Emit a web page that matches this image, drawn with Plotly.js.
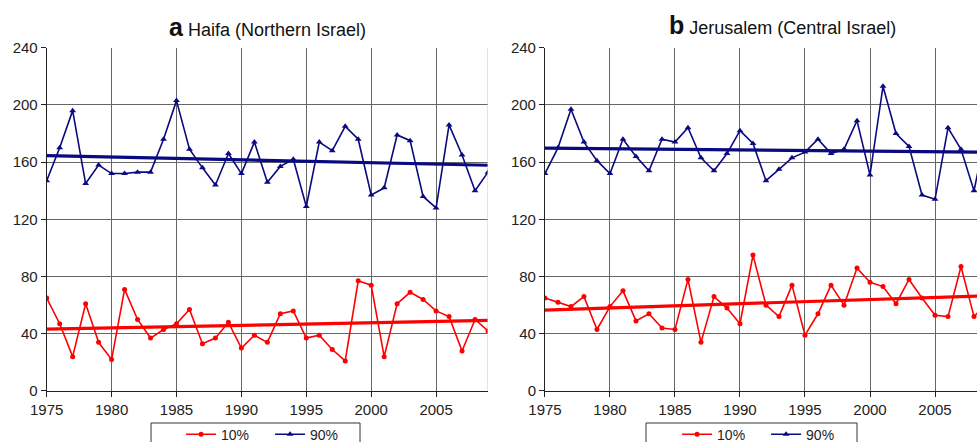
<!DOCTYPE html>
<html><head><meta charset="utf-8">
<script src="https://cdn.plot.ly/plotly-3.0.1.min.js"></script>
<style>html,body{margin:0;padding:0;background:#fff}#chart{width:977px;height:442px}</style>
</head><body><div id="chart"></div>
<script>
// ---- data ----
const years = [1975,1976,1977,1978,1979,1980,1981,1982,1983,1984,1985,1986,1987,1988,1989,1990,1991,1992,1993,1994,1995,1996,1997,1998,1999,2000,2001,2002,2003,2004,2005,2006,2007,2008,2009];
const haifa10 = [65,47,24,61,34,22,71,50,37,43,47,57,33,37,48,30,39,34,54,56,37,39,29,21,77,74,24,61,69,64,56,52,28,50,42];
const haifa90 = [147,170,196,145,158,152,152,153,153,176,203,169,156,144,166,152,174,146,157,162,129,174,168,185,176,137,142,179,175,136,128,186,165,140,153];
const jerus10 = [65,62,59,66,43,59,70,49,54,44,43,78,34,66,58,47,95,60,52,74,39,54,74,60,86,76,73,61,78,65,53,52,87,52,62];
const jerus90 = [152,170,197,174,161,152,176,164,154,176,174,184,163,154,166,182,173,147,155,163,167,176,166,169,189,151,213,180,171,137,134,184,169,140,184];
const trendYears = [1975, 2009];
const haifaTrend10 = [43.2, 49.3];
const haifaTrend90 = [164.6, 157.8];
const jerusTrend10 = [56.6, 66.6];
const jerusTrend90 = [169.8, 166.9];
const seriesNames = ['10%', '90%'];
const titles = ['<span style="font-size:25px"><b>a</b></span> Haifa (Northern Israel)',
                '<span style="font-size:25px"><b>b</b></span> Jerusalem (Central Israel)'];

// ---- styles ----
const RED = '#ff0000', NAVY = '#0a0a80';
const FONT = 'Liberation Sans, Arial, sans-serif';

function series(x, y, name, color, symbol, size, xa, ya, leg) {
  return {x, y, name, type:'scatter', mode:'lines+markers', xaxis:xa, yaxis:ya, legend:leg,
    line:{color, width:1.6}, marker:{color, symbol, size}, cliponaxis:true};
}
function trend(x, y, color, xa, ya) {
  return {x, y, type:'scatter', mode:'lines', xaxis:xa, yaxis:ya, showlegend:false,
    line:{color, width:3.2}, hoverinfo:'skip'};
}

const data = [
  series(years, haifa10, seriesNames[0], RED, 'circle', 5, 'x', 'y', 'legend'),
  series(years, haifa90, seriesNames[1], NAVY, 'triangle-up', 6, 'x', 'y', 'legend'),
  trend(trendYears, haifaTrend10, RED, 'x', 'y'),
  trend(trendYears, haifaTrend90, NAVY, 'x', 'y'),
  series(years, jerus10, seriesNames[0], RED, 'circle', 5, 'x2', 'y2', 'legend2'),
  series(years, jerus90, seriesNames[1], NAVY, 'triangle-up', 6, 'x2', 'y2', 'legend2'),
  trend(trendYears, jerusTrend10, RED, 'x2', 'y2'),
  trend(trendYears, jerusTrend90, NAVY, 'x2', 'y2'),
];

const xBase = {tick0:1975, dtick:5, showgrid:true, gridcolor:'#666', gridwidth:1,
  showline:true, linecolor:'#222', linewidth:1, ticks:'outside', ticklen:5, tickcolor:'#222',
  tickfont:{size:15, color:'#222', family:FONT}, zeroline:false, fixedrange:true};
const yBase = {range:[0,240], tick0:0, dtick:40, showgrid:true, gridcolor:'#666', gridwidth:1,
  showline:true, linecolor:'#222', linewidth:1, ticks:'outside', ticklen:5, tickcolor:'#222',
  tickfont:{size:15, color:'#222', family:FONT}, zeroline:false, fixedrange:true,
  domain:[0.1154, 0.8921]};

const legBase = {orientation:'h', xanchor:'left', yanchor:'middle', y:0.0165,
  bgcolor:'rgba(0,0,0,0)', borderwidth:0, font:{size:14, color:'#222', family:FONT},
  entrywidth:44, entrywidthmode:'pixels'};

const layout = {
  width:977, height:442, margin:{l:0, r:0, t:0, b:0, autoexpand:false},
  paper_bgcolor:'#fff', plot_bgcolor:'#fff', font:{family:FONT, color:'#222'},
  xaxis: Object.assign({}, xBase, {domain:[0.0478, 0.4995], range:[1975, 2009], anchor:'y'}),
  yaxis: Object.assign({}, yBase, {anchor:'x'}),
  xaxis2: Object.assign({}, xBase, {domain:[0.5578, 1], range:[1975, 2008.23], anchor:'y2'}),
  yaxis2: Object.assign({}, yBase, {anchor:'x2'}),
  legend: Object.assign({}, legBase, {x:0.1853}),
  legend2: Object.assign({}, legBase, {x:0.693}),
  annotations: [
    {text:titles[0], xref:'paper', yref:'paper', x:0.2743, y:0.939, xanchor:'center', yanchor:'middle',
     showarrow:false, font:{size:18, color:'#111', family:FONT}},
    {text:titles[1], xref:'paper', yref:'paper', x:0.8014, y:0.943, xanchor:'center', yanchor:'middle',
     showarrow:false, font:{size:18, color:'#111', family:FONT}}
  ],
  shapes: [
    {type:'line', xref:'x', yref:'y', x0:2009, x1:2009, y0:0, y1:240, line:{color:'#c8c8c8', width:1}},
    {type:'rect', xref:'paper', yref:'paper', x0:0.1546, x1:0.3685, y0:-0.1, y1:0.043, line:{color:'#333', width:1}},
    {type:'rect', xref:'paper', yref:'paper', x0:0.6612, x1:0.8772, y0:-0.1, y1:0.043, line:{color:'#333', width:1}}
  ]
};

Plotly.newPlot('chart', data, layout, {staticPlot:true, displayModeBar:false});
</script></body></html>
